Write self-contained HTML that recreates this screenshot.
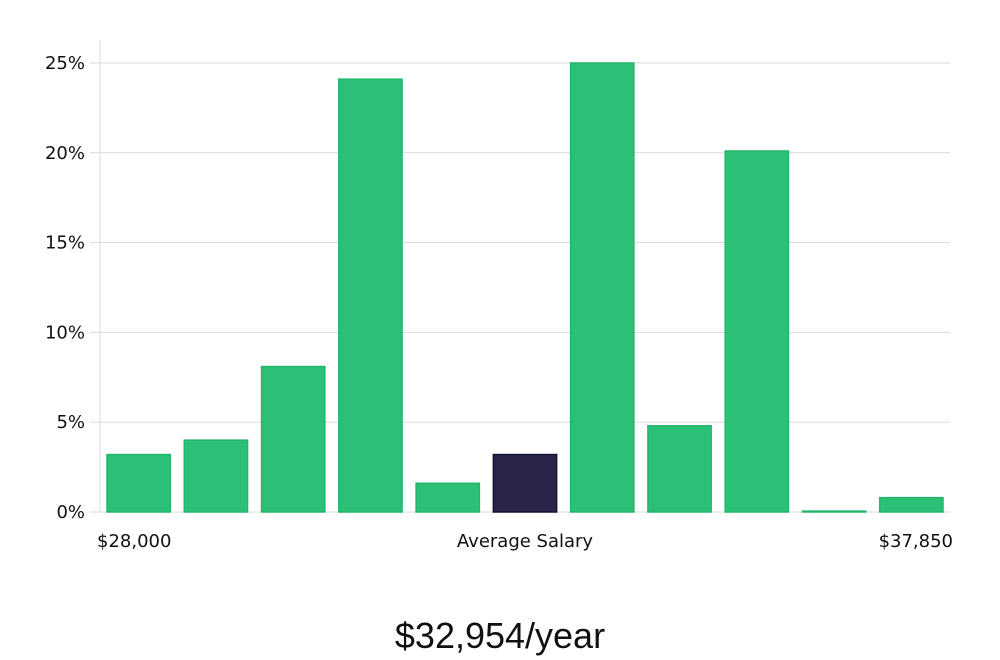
<!DOCTYPE html>
<html><head><meta charset="utf-8"><style>
body{margin:0;background:#fff;width:1000px;height:660px;overflow:hidden}
svg{display:block}
text{font-family:"DejaVu Sans","Liberation Sans",sans-serif;fill:#111}
</style></head><body>
<svg id="chart" width="1000" height="660"></svg>
<script>
const categories=["b1","b2","b3","b4","b5","b6","b7","b8","b9","b10","b11"];
const values=[3.2,4.0,8.1,24.1,1.6,3.2,25.0,4.8,20.1,0.05,0.8];
const highlight=[false,false,false,false,false,true,false,false,false,false,false];
const yTicks=[0,5,10,15,20,25];
const svg=document.getElementById('chart');
const NS='http://www.w3.org/2000/svg';
const x0=100,x1=950,yTop=40,y0=512,y25=63;
const y=v=>y0-(v/25)*(y0-y25);
const band=(x1-x0)/categories.length;
const x=i=>x0+i*band;
function mk(t,a){const e=document.createElementNS(NS,t);for(const k in a)e.setAttribute(k,a[k]);svg.appendChild(e);return e;}
yTicks.forEach(t=>{
  const g=mk('line',{x1:90,x2:950,y1:y(t),y2:y(t),stroke:'#d9d9d9','stroke-width':1});
  
  
  const l=mk('text',{x:85,y:y(t)+6,'text-anchor':'end','font-size':18});
  l.textContent=t+'%';
  
  
});
const ax=mk('line',{x1:x0,x2:x0,y1:yTop,y2:y0,stroke:'#d9d9d9','stroke-width':1});


values.forEach((v,i)=>{
  const r=mk('rect',{x:x(i)+7,y:y(v),width:band-14,height:y0-y(v),
    fill:highlight[i]?'#28244a':'#2cbf77',stroke:highlight[i]?'#141233':'#22b86c','stroke-width':1.5});
  
  
});
function label(txt,xx,anchor,name,size,yy,fam){
  const t=mk('text',{x:xx,y:yy,'text-anchor':anchor,'font-size':size});
  if(fam)t.style.fontFamily=fam;
  t.textContent=txt;
  
  
}
label('$28,000',97,'start','x-min-label',18,547);
label('Average Salary',525,'middle','x-axis-title',18,547);
label('$37,850',953,'end','x-max-label',18,547);
label('$32,954/year',500,648,'middle'==='x'?'':'middle','average-salary-value',0);
</script>
<script>
// fix final label (proper call)
(function(){const s=document.getElementById('chart');const last=s.lastChild;if(last&&last.textContent==='$32,954/year')s.removeChild(last);
const t=document.createElementNS('http://www.w3.org/2000/svg','text');
t.setAttribute('x',500);t.setAttribute('y',648);t.setAttribute('text-anchor','middle');t.setAttribute('font-size',36);
t.style.fontFamily='"Liberation Sans",sans-serif';
t.textContent='$32,954/year';


s.appendChild(t);})();
</script>
</body></html>
